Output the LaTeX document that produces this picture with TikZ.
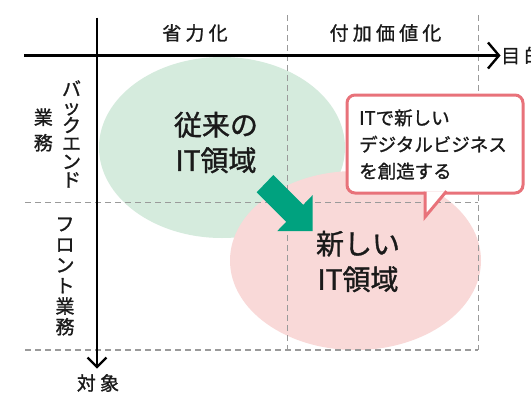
\documentclass[tikz,border=0pt]{standalone}
\usepackage{fontspec}
\setmainfont{Noto Sans CJK JP}[FakeBold=1.2]
\newfontfamily\jpls{Noto Sans CJK JP}[LetterSpace=22,FakeBold=1.2]
\usetikzlibrary{shapes.geometric}
\definecolor{oldgreen}{HTML}{D5EBDD}
\definecolor{newpink}{HTML}{F9D9D8}
\definecolor{arrowgreen}{HTML}{00A27F}
\definecolor{calloutred}{HTML}{E8727A}
\definecolor{gridgray}{HTML}{9A9A9A}
\definecolor{ink}{HTML}{1A1A1A}
\tikzset{
  region/.style={ellipse, inner sep=0pt, draw=none},
  gridline/.style={gridgray, line width=1.4pt, dash pattern=on 6pt off 4pt},
  axisline/.style={black, line width=2.4pt},
  collabel/.style={font=\jpls\fontsize{19}{21}\selectfont, text=ink, inner sep=0pt},
  rowlabel/.style={font=\fontsize{19}{#1}\selectfont, text=ink, inner sep=0pt, align=center},
  bigtext/.style={font=\fontsize{28}{35.5}\selectfont, align=center, text=ink, inner sep=0pt},
  bubble/.style={draw=calloutred, fill=white, line width=3pt, rounded corners=8pt, inner sep=0pt},
  bubbletext/.style={font=\fontsize{18.5}{26.7}\selectfont, align=left, text=ink, inner sep=0pt}
}
\begin{document}
\begin{tikzpicture}[x=1pt,y=-1pt]
\useasboundingbox (0,0) rectangle (531,394);
\fill[white] (0,0) rectangle (531,394);
% regions
\node[region, fill=oldgreen, minimum width=246pt, minimum height=181pt] (oldarea) at (222,147.5) {};
\node[region, fill=newpink, minimum width=251pt, minimum height=179pt] (newarea) at (355.5,260.5) {};
% grid
\coordinate (v1t) at (287.7,15);  \coordinate (v1b) at (287.7,350);
\coordinate (v2t) at (478.3,15);  \coordinate (v2b) at (478.3,350);
\coordinate (h1l) at (25,202.5);  \coordinate (h1r) at (478.3,202.5);
\coordinate (h2l) at (25,350);    \coordinate (h2r) at (478.3,350);
\draw[gridline] (v1t) -- (v1b);
\draw[gridline] (v2t) -- (v2b);
\draw[gridline] (h1l) -- (h1r);
\draw[gridline] (h2l) -- (h2r);
% axes
\coordinate (xs) at (24,55.5);  \coordinate (xe) at (498,55.5);
\coordinate (ys) at (97,17.5);  \coordinate (ye) at (97,366);
\draw[axisline] (xs) -- (xe);
\draw[axisline, line join=miter] (488,42.5) -- (499,55.5) -- (488,68.5);
\draw[axisline] (ys) -- (ye);
\draw[axisline, line join=miter] (87.5,357.5) -- (97,367) -- (106.5,357.5);
% labels
\node[collabel] (cost) at (195,33) {省力化};
\node[collabel] (value) at (385.5,33) {付加価値化};
\node[collabel, anchor=west] (purpose) at (501,55.5) {目的};
\node[collabel] (target) at (98,383) {対象};
\node[rowlabel=18.2] (back) at (71.5,134) {バ\\ッ\\ク\\エ\\ン\\ド};
\node[rowlabel=25.5] (backgyo) at (43.3,130) {業\\務};
\node[rowlabel=20.6] (front) at (65,276.5) {フ\\ロ\\ン\\ト\\業\\務};
% region texts
\node[bigtext] (oldtext) at (216,142.5) {従来の\\IT領域};
\node[bigtext] (newtext) at (358,261.5) {新しい\\IT領域};
% green arrow
\fill[arrowgreen] (256.7,192.3) -- (273.3,175) -- (303.2,204.9) -- (312.7,195) -- (312.7,231) -- (277.3,231) -- (286.2,221.8) -- cycle;
% callout
\node[bubble, minimum width=176pt, minimum height=98pt] (bubble) at (435,144) {};
\fill[white] (425,191.4) -- (425,217) -- (446.3,191.4) -- cycle;
\draw[calloutred, line width=3pt, line join=miter] (425,191.5) -- (425,217) -- (446.5,191.2);
\node[bubbletext, anchor=west] (bubbletext) at (359,144.5) {ITで新しい\\デジタルビジネス\\を創造する};
\end{tikzpicture}
\end{document}
